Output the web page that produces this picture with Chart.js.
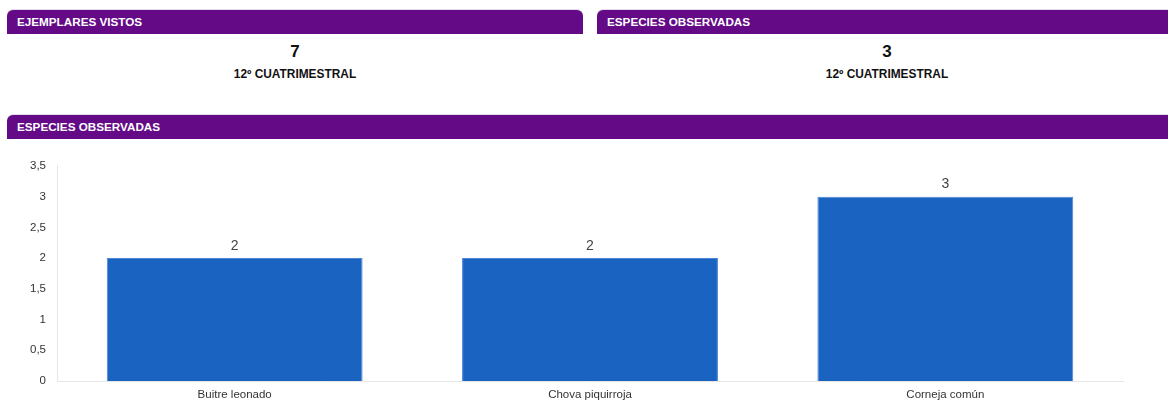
<!DOCTYPE html>
<html lang="es">
<head>
<meta charset="UTF-8">
<title>Especies observadas</title>
<script src="https://cdn.jsdelivr.net/npm/chart.js"></script>
<style>
  body { margin: 0; width: 1168px; height: 408px; background: #fff; font-family: Arial, "Liberation Sans", sans-serif; position: relative; overflow: hidden; }
  .head { position: absolute; height: 24px; background: #640a87; color: #fff; font-size: 11.7px; font-weight: bold; line-height: 24px; padding-left: 10px; box-sizing: border-box; border-radius: 6px 6px 0 0; box-shadow: 0 -1px 0 #e2dde6; }
  .num { position: absolute; font-size: 17px; font-weight: bold; color: #111; text-align: center; }
  .sub { position: absolute; font-size: 11.9px; font-weight: bold; color: #111; text-align: center; }
  #wrap { position: absolute; left: 0; top: 148px; width: 1168px; height: 260px; }
</style>
</head>
<body>
  <div class="head" style="left:7px; top:10px; width:576px;">EJEMPLARES VISTOS</div>
  <div class="num" style="left:7px; width:576px; top:42px;">7</div>
  <div class="sub" style="left:7px; width:576px; top:67px;">12º CUATRIMESTRAL</div>

  <div class="head" style="left:597px; top:10px; width:580px;">ESPECIES OBSERVADAS</div>
  <div class="num" style="left:597px; width:580px; top:42px;">3</div>
  <div class="sub" style="left:597px; width:580px; top:67px;">12º CUATRIMESTRAL</div>

  <div class="head" style="left:7px; top:115px; width:1170px;">ESPECIES OBSERVADAS</div>

  <div id="wrap"><canvas id="myChart"></canvas></div>

<script>
  const especies = ['Buitre leonado', 'Chova piquirroja', 'Corneja común'];
  const observadas = [2, 2, 3];

  // numbers above the bars
  const valueLabels = {
    id: 'valueLabels',
    afterDatasetsDraw(chart) {
      const ctx = chart.ctx;
      ctx.save();
      ctx.font = '14px Arial, "Liberation Sans", sans-serif';
      ctx.fillStyle = '#444';
      ctx.textAlign = 'center';
      ctx.textBaseline = 'bottom';
      chart.getDatasetMeta(0).data.forEach((bar, i) => {
        ctx.fillText(String(observadas[i]), bar.x, bar.y - 5);
      });
      ctx.restore();
    }
  };

  new Chart(document.getElementById('myChart'), {
    type: 'bar',
    data: {
      labels: especies,
      datasets: [{
        data: observadas,
        backgroundColor: '#1a63c0',
        borderColor: '#4a86d6',
        borderWidth: 1
      }]
    },
    options: {
      responsive: true,
      maintainAspectRatio: false,
      animation: false,
      layout: { padding: { top: 15, right: 45 } },
      plugins: { legend: { display: false }, tooltip: { enabled: false } },
      scales: {
        x: {
          grid: { display: false, drawTicks: false },
          border: { color: '#e6e6e6' },
          ticks: { color: '#333', padding: 7, font: { family: 'Arial', size: 11.5 } },
          afterFit(s) { s.height = 27; }
        },
        y: {
          min: 0, max: 3.5,
          grid: { display: false, drawTicks: false },
          border: { color: '#e6e6e6' },
          ticks: {
            stepSize: 0.5, color: '#333', padding: 11,
            font: { family: 'Arial', size: 11.5 },
            callback: v => String(v).replace('.', ',')
          },
          afterFit(s) { s.width = 57; }
        }
      }
    },
    plugins: [valueLabels]
  });
</script>
</body>
</html>
